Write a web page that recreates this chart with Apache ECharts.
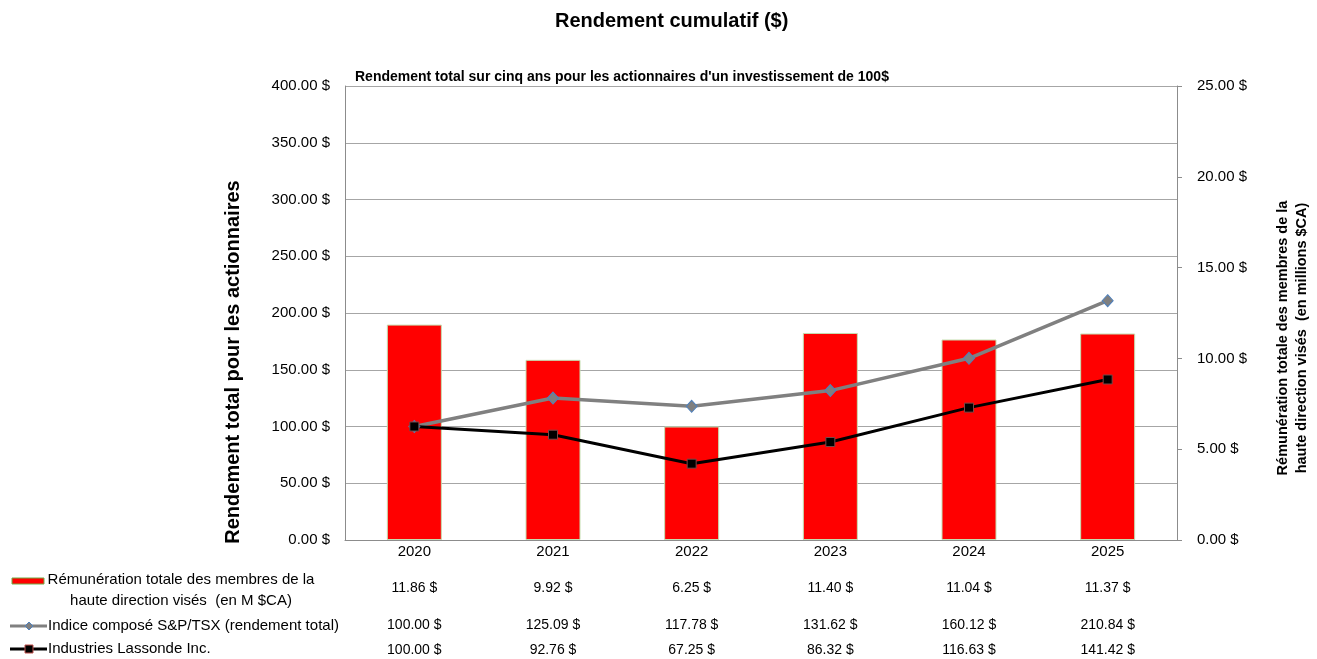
<!DOCTYPE html>
<html>
<head>
<meta charset="utf-8">
<script src="https://cdn.jsdelivr.net/npm/echarts@6/dist/echarts.min.js"></script>
<style>
  html, body { margin: 0; padding: 0; background: #fff; }
  #rendement { width: 1317px; height: 659px; }
</style>
</head>
<body>
<div id="rendement"></div>
<script>
// données du graphique
var annees = ['2020', '2021', '2022', '2023', '2024', '2025'];
var remuneration = [11.86, 9.92, 6.25, 11.40, 11.04, 11.37];   // M $CA (axe droit)
var indiceTSX = [100.00, 125.09, 117.78, 131.62, 160.12, 210.84];
var lassonde = [100.00, 92.76, 67.25, 86.32, 116.63, 141.42];
var ticksGauche = [0, 50, 100, 150, 200, 250, 300, 350, 400];
var ticksDroite = [0, 5, 10, 15, 20, 25];

var police = '"Liberation Sans", Arial, sans-serif';
var fmt = function (v) { return v.toFixed(2) + ' $'; };

var myChart = echarts.init(document.getElementById('rendement'));

// axes "tableau" sous le graphique
function ligneTableau(valeurs, offset) {
  return {
    type: 'category',
    gridIndex: 0,
    position: 'bottom',
    offset: offset,
    data: valeurs.map(fmt),
    axisLine: { show: false },
    axisTick: { show: false },
    axisLabel: { margin: 0, verticalAlign: 'middle', fontSize: 14, color: '#000', fontFamily: police }
  };
}

var option = {
  animation: false,
  title: [{
    text: 'Rendement cumulatif ($)',
    left: 550,
    top: 6,
    textStyle: { fontSize: 20, fontWeight: 'bold', color: '#000', fontFamily: police }
  }, {
    text: "Rendement total sur cinq ans pour les actionnaires d'un investissement de 100$",
    left: 350,
    top: 65,
    textStyle: { fontSize: 14, fontWeight: 'bold', color: '#000', fontFamily: police }
  }],
  grid: { left: 345, right: 140, top: 86, bottom: 119 },
  xAxis: [
    {
      type: 'category',
      data: annees,
      axisLine: { lineStyle: { color: '#8c8c8c' } },
      axisTick: { show: false },
      axisLabel: { margin: 12, verticalAlign: 'middle', fontSize: 15, color: '#000', fontFamily: police }
    },
    ligneTableau(remuneration, 48),
    ligneTableau(indiceTSX, 85),
    ligneTableau(lassonde, 110)
  ],
  yAxis: [
    {
      type: 'value',
      min: ticksGauche[0],
      max: ticksGauche[ticksGauche.length - 1],
      interval: 50,
      axisLine: { show: true, lineStyle: { color: '#8c8c8c' } },
      axisTick: { show: false },
      splitLine: { lineStyle: { color: '#a6a6a6' } },
      axisLabel: { margin: 15, fontSize: 15, color: '#000', fontFamily: police, formatter: fmt }
    },
    {
      type: 'value',
      position: 'right',
      min: ticksDroite[0],
      max: ticksDroite[ticksDroite.length - 1],
      interval: 5,
      axisLine: { show: true, lineStyle: { color: '#8c8c8c' } },
      axisTick: { show: true, inside: false, length: 5, lineStyle: { color: '#8c8c8c' } },
      splitLine: { show: false },
      axisLabel: { margin: 20, fontSize: 15, color: '#000', fontFamily: police, formatter: fmt }
    }
  ],
  series: [
    {
      name: 'Rémunération totale des membres de la haute direction visés (en M $CA)',
      type: 'bar',
      yAxisIndex: 1,
      barWidth: 55,
      itemStyle: { color: '#ff0000', borderColor: '#c4deb0', borderWidth: 1 },
      data: remuneration
    },
    {
      name: 'Indice composé S&P/TSX (rendement total)',
      type: 'line',
      yAxisIndex: 0,
      symbol: 'diamond',
      symbolSize: [11, 12],
      lineStyle: { color: '#808080', width: 3.5 },
      itemStyle: { color: '#7f7f7f', borderColor: '#4f81bd', borderWidth: 1 },
      data: indiceTSX
    },
    {
      name: 'Industries Lassonde Inc.',
      type: 'line',
      yAxisIndex: 0,
      symbol: 'rect',
      symbolSize: 9,
      lineStyle: { color: '#000', width: 3 },
      itemStyle: { color: '#000', borderColor: '#7a4a4a', borderWidth: 1 },
      data: lassonde
    }
  ],
  graphic: [
    // titres des axes
    {
      type: 'text', x: 233, y: 362, rotation: Math.PI / 2,
      style: {
        text: 'Rendement total pour les actionnaires', align: 'center', verticalAlign: 'middle',
        font: 'bold 20px ' + police, fill: '#000'
      }
    },
    {
      type: 'text', x: 1292, y: 338, rotation: Math.PI / 2,
      style: {
        text: 'Rémunération totale des membres de la\nhaute direction visés  (en millions $CA)',
        align: 'center', verticalAlign: 'middle', lineHeight: 19,
        font: 'bold 14.5px ' + police, fill: '#000'
      }
    },
    // légende du tableau
    { type: 'rect', shape: { x: 12, y: 578, width: 32, height: 6 }, style: { fill: '#ff0000', stroke: '#70ad47', lineWidth: 1 } },
    {
      type: 'text', x: 181, y: 590,
      style: {
        text: 'Rémunération totale des membres de la\nhaute direction visés  (en M $CA)',
        align: 'center', verticalAlign: 'middle', lineHeight: 21,
        font: '15px ' + police, fill: '#000'
      }
    },
    { type: 'line', shape: { x1: 10, y1: 626, x2: 47, y2: 626 }, style: { stroke: '#808080', lineWidth: 3 } },
    { type: 'polygon', shape: { points: [[29, 622], [33, 626], [29, 630], [25, 626]] }, style: { fill: '#7f7f7f', stroke: '#4f81bd', lineWidth: 1 } },
    { type: 'text', x: 48, y: 626, style: { text: 'Indice composé S&P/TSX (rendement total)', verticalAlign: 'middle', font: '15px ' + police, fill: '#000' } },
    { type: 'line', shape: { x1: 10, y1: 649, x2: 47, y2: 649 }, style: { stroke: '#000', lineWidth: 3 } },
    { type: 'rect', shape: { x: 25, y: 645, width: 8, height: 8 }, style: { fill: '#000', stroke: '#c0504d', lineWidth: 1 } },
    { type: 'text', x: 48, y: 649, style: { text: 'Industries Lassonde Inc.', verticalAlign: 'middle', font: '15px ' + police, fill: '#000' } }
  ]
};

myChart.setOption(option);
</script>
</body>
</html>
